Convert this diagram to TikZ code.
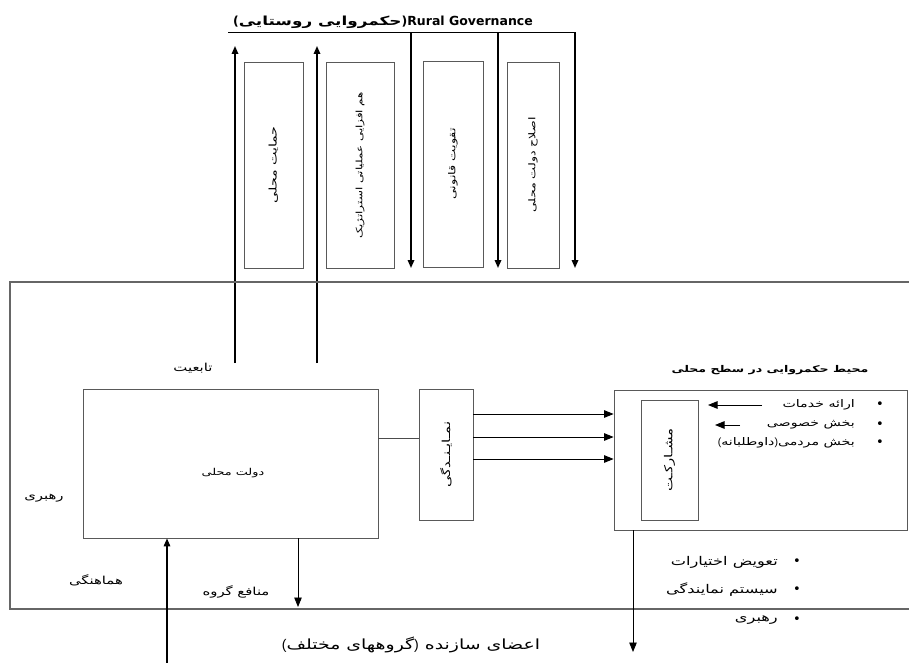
\documentclass[tikz,border=0pt]{standalone}
\usepackage{fontspec}
\usepackage{graphicx}
\setmainfont{Liberation Sans}
\newfontfamily\fa[Script=Arabic,FakeStretch=1.35]{DejaVu Sans}
\newfontfamily\lat{DejaVu Sans}
\TeXXeTstate=1
\usetikzlibrary{arrows.meta}
\newcommand{\fz}[1]{\fontsize{#1}{#1}\selectfont}
\begin{document}
\begin{tikzpicture}[x=1pt,y=-1pt,
  box/.style={draw=black!65,line width=0.8pt,inner sep=0pt},
  frame/.style={draw=black!60,line width=1.1pt},
  arr/.style={line width=1.6pt,-{Triangle[length=8pt,width=6.5pt]}},
  thinarr/.style={line width=0.9pt,-{Triangle[length=9.5pt,width=7.5pt]}},
  lbl/.style={font=\fa\fz{11},inner sep=1pt},
  vlbl/.style={font=\fa\fz{9.5},inner sep=0pt},
  blt/.style={font=\lat\fz{13},inner sep=0pt},
  ]
\useasboundingbox[fill=white] (0,0) rectangle (909,663);

% title
\node[inner sep=0pt] (title) at (383,22) {{\lat\bfseries\fz{12.5}(}{\fa\bfseries\fz{12.5}\beginR حکمروایی روستایی\endR}{\lat\bfseries\fz{12.5})Rural Governance}};
\coordinate (tl) at (228,33);
\coordinate (tr) at (576,33);
\draw[line width=1pt] (tl) -- (tr);

% up arrows
\coordinate (u1b) at (235,363); \coordinate (u1t) at (235,46);
\coordinate (u2b) at (317,363); \coordinate (u2t) at (317,46);
\draw[arr] (u1b) -- (u1t);
\draw[arr] (u2b) -- (u2t);
% down arrows
\coordinate (d1t) at (411,33); \coordinate (d1b) at (411,268);
\coordinate (d2t) at (498,33); \coordinate (d2b) at (498,268);
\coordinate (d3t) at (575,33); \coordinate (d3b) at (575,268);
\draw[arr] (d1t) -- (d1b);
\draw[arr] (d2t) -- (d2b);
\draw[arr] (d3t) -- (d3b);

% vertical boxes
\node[box,vlbl,minimum width=59,minimum height=206] (b1) at (273.5,165) {\rotatebox{90}{\fz{10.5}\beginR حمایت محلی\endR}};
\node[box,vlbl,minimum width=68,minimum height=206] (b2) at (360,165) {\rotatebox{90}{\fz{8.8}\beginR هم افزایی عملیاتی استراتژیک\endR}};
\node[box,vlbl,minimum width=60,minimum height=206] (b3) at (453,164) {\rotatebox{90}{\fz{9.5}\beginR تقویت قانونی\endR}};
\node[box,vlbl,minimum width=52,minimum height=206] (b4) at (533,165) {\rotatebox{90}{\fz{9.3}\beginR اصلاح دولت محلی\endR}};

% big frame (open at right)
\draw[frame] (909,282) -- (10,282) -- (10,609) -- (909,609);

% local government
\node[box,minimum width=295,minimum height=149] (gov) at (230.5,463.5) {};
\node[lbl,font=\fa\fz{9.5}] (govt) at (233,473) {\beginR دولت محلی\endR};
\node[lbl] (tabiat) at (193,368) {\beginR تابعیت\endR};
\node[lbl] (rahbari) at (44,498) {\beginR رهبری\endR};
\node[lbl] (hamahangi) at (96,580) {\beginR هماهنگی\endR};
\node[lbl] (manafe) at (236,592) {\beginR منافع گروه\endR};

% representation
\node[box,vlbl,minimum width=54,minimum height=131] (rep) at (446,454.5) {\rotatebox{90}{\fz{11}\beginR نمـایـنـدگی\endR}};
\coordinate (c0) at (0,438);
\draw[black!70,line width=0.7pt] (gov.east |- c0) -- (rep.west |- c0);

% environment
\node[box,minimum width=293,minimum height=140] (env) at (760.5,460) {};
\node[box,vlbl,minimum width=57,minimum height=120] (part) at (669.5,460) {\rotatebox{90}{\fz{11}\beginR مشـارکـت\endR}};
\node[lbl,font=\fa\bfseries\fz{9.3}] (envt) at (770,370) {\beginR محیط حکمروایی در سطح محلی\endR};

\coordinate (c1) at (0,414);
\coordinate (c2) at (0,437);
\coordinate (c3) at (0,459);
\draw[thinarr] (rep.east |- c1) -- (env.west |- c1);
\draw[thinarr] (rep.east |- c2) -- (env.west |- c2);
\draw[thinarr] (rep.east |- c3) -- (env.west |- c3);

% env bullets
\node[blt] (e1b) at (880,405) {•};
\node[blt] (e2b) at (880,425) {•};
\node[blt] (e3b) at (880,443) {•};
\node[lbl,anchor=east,font=\fa\fz{10.5}] (e1) at (856,405) {\beginR ارائه خدمات\endR};
\node[lbl,anchor=east,font=\fa\fz{10.5}] (e2) at (856,425) {\beginR بخش خصوصی\endR};
\node[lbl,anchor=east,font=\fa\fz{10.5}] (e3) at (856,443) {\beginR بخش مردمی{\rmfamily)}داوطلبانه{\rmfamily(}\endR};
\coordinate (a1s) at (762,405); \coordinate (a1e) at (708,405);
\coordinate (a2s) at (740,425); \coordinate (a2e) at (715,425);
\draw[thinarr] (a1s) -- (a1e);
\draw[thinarr] (a2s) -- (a2e);

% bottom arrow from env
\coordinate (eb) at (633,652);
\draw[thinarr] (env.south -| eb) -- (eb);

% bottom bullets
\node[blt] (f1b) at (797,562) {•};
\node[blt] (f2b) at (797,590) {•};
\node[blt] (f3b) at (797,620) {•};
\node[lbl,anchor=east,font=\fa\fz{12}] (f1) at (779,562) {\beginR تعویض اختیارات\endR};
\node[lbl,anchor=east,font=\fa\fz{12}] (f2) at (779,590) {\beginR سیستم نمایندگی\endR};
\node[lbl,anchor=east,font=\fa\fz{12}] (f3) at (779,620) {\beginR رهبری\endR};

\node[lbl,font=\fa\fz{14}] (members) at (411,645) {\beginR اعضای سازنده {\rmfamily)}گروههای مختلف{\rmfamily(}\endR};

% arrows at local government
\coordinate (gb) at (167,663);
\draw[arr] (gb) -- (gov.south -| gb);
\coordinate (gi) at (298,607);
\draw[thinarr] (gov.south -| gi) -- (gi);
\end{tikzpicture}
\end{document}
